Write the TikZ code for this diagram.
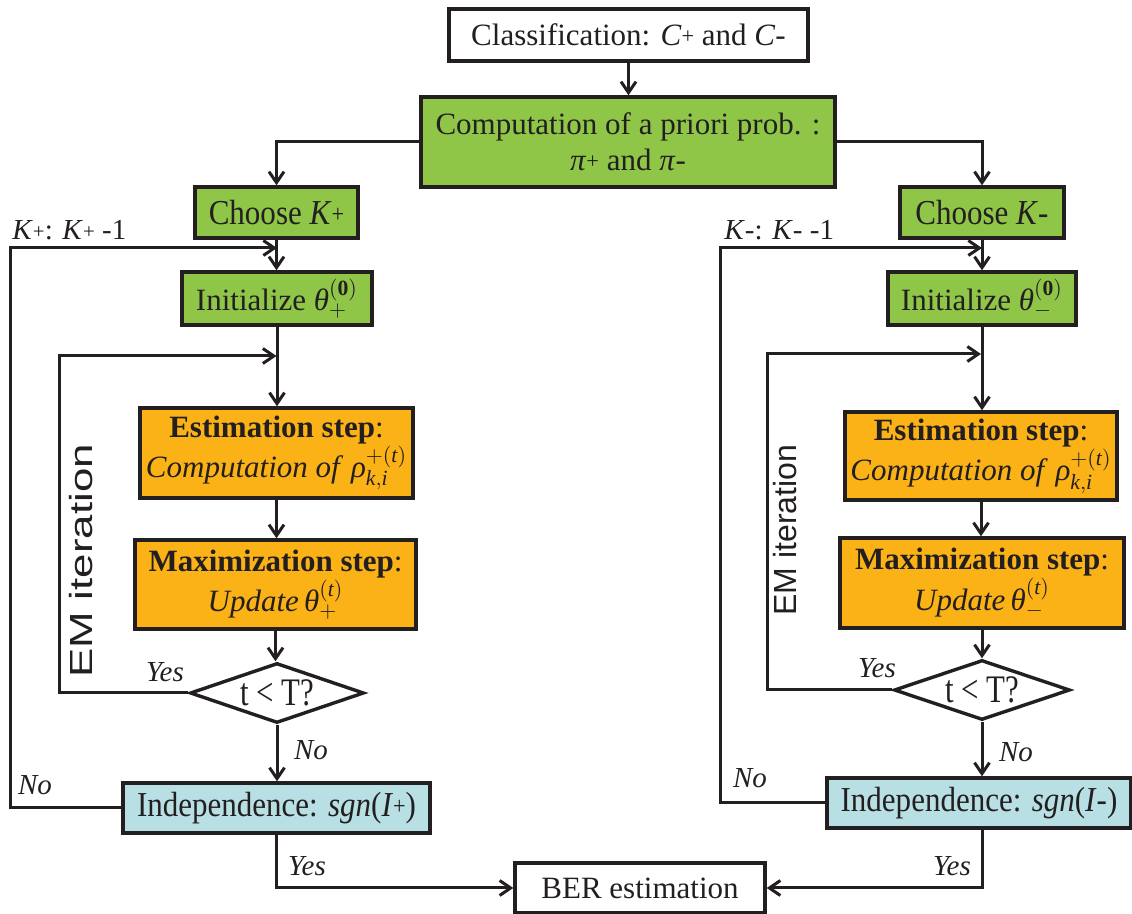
\documentclass[tikz,border=0pt]{standalone}
\usepackage{fontspec}
\usepackage{graphicx}
\setmainfont{Liberation Serif}
\newfontfamily\tallfont[FakeStretch=0.79]{Liberation Serif}
\newfontfamily\midfont[FakeStretch=0.886]{Liberation Serif}
\newfontfamily\emfontA[FakeStretch=1.37]{Liberation Sans}
\newfontfamily\emfontB{Liberation Sans}
\usetikzlibrary{arrows.meta,shapes.geometric}
\definecolor{boxgreen}{RGB}{143,198,72}
\definecolor{boxorange}{RGB}{251,178,22}
\definecolor{boxblue}{RGB}{184,224,228}
\definecolor{ink}{RGB}{35,31,32}
\newcommand\smp{\raisebox{0.06em}{\scalebox{0.72}{+}}}
\newcommand\gth{\hbox{\itshape θ}}
\newcommand\grho{\hbox{\itshape ρ}}
\newcommand\mainsz{\fontsize{15.5}{18}\selectfont}
\newcommand\midsz{\midfont\fontsize{17.5}{20}\selectfont}
\newcommand\tallsz{\tallfont\fontsize{19.5}{22}\selectfont}
\newcommand\labsz{\fontsize{14.5}{17}\selectfont}
\begin{document}
\begin{tikzpicture}[x=0.5pt,y=-0.5pt,
  box/.style={draw=ink, line width=1.7pt, inner sep=0pt, align=center, font=\mainsz, text=ink},
  greenbox/.style={box, fill=boxgreen},
  orangebox/.style={box, fill=boxorange},
  bluebox/.style={box, fill=boxblue, font=\midsz},
  dia/.style={diamond, draw=ink, line width=1.7pt, fill=white, inner sep=0pt, aspect=2.9, minimum width=87pt, minimum height=30pt, font=\tallsz, text=ink},
  arr/.style={draw=ink, line width=1.5pt, -{Straight Barb[length=5.5pt,width=7.5pt]}},
  conn/.style={draw=ink, line width=1.5pt},
  lab/.style={font=\labsz, text=ink, inner sep=0pt}]
\useasboundingbox (0,0) rectangle (1132,914);

% boxes
\node[box, fill=white, minimum width=179.5pt, minimum height=26pt] (cls) at (628.5,35) {Classification: \textit{C}\smp{} and \textit{C}-};
\node[greenbox, minimum width=207pt, minimum height=45pt] (comp) at (628,142) {Computation of a priori prob. :\\ \textit{π}\smp{} and \textit{π}-};

\node[greenbox, font=\midsz, minimum width=81.5pt, minimum height=25.5pt] (chp) at (276.5,212.5) {Choose \textit{K}\smp};
\node[greenbox, font=\midsz, minimum width=82pt, minimum height=25.5pt] (chm) at (982,212.5) {Choose \textit{K}-};

\node[greenbox, minimum width=95pt, minimum height=26.5pt] (inip) at (277,298.5) {Initialize $\gth^{\mathbf{(0)}}_{+}$};
\node[greenbox, minimum width=94pt, minimum height=26.5pt] (inim) at (982,298.5) {Initialize $\gth^{\mathbf{(0)}}_{-}$};

\node[orangebox, minimum width=136.5pt, minimum height=45pt] (estp) at (276.5,453) {\textbf{Estimation step}:\\ \textit{Computation of} $\grho^{+(\mathit{t})}_{\mathit{k,i}}$};
\node[orangebox, minimum width=136pt, minimum height=44pt] (estm) at (981,456) {\textbf{Estimation step}:\\ \textit{Computation of} $\grho^{+(\mathit{t})}_{\mathit{k,i}}$};

\node[orangebox, minimum width=140.5pt, minimum height=44.5pt] (maxp) at (275.5,584.5) {\textbf{Maximization step}:\\ \textit{Update}\,$\gth^{(\mathit{t})}_{+}$};
\node[orangebox, minimum width=142pt, minimum height=45pt] (maxm) at (982,583) {\textbf{Maximization step}:\\ \textit{Update}\,$\gth^{(\mathit{t})}_{-}$};

\node[dia] (dp) at (277,693) {t < T?};
\node[dia, minimum width=88pt] (dm) at (982,690) {t < T?};

\node[bluebox, minimum width=153.5pt, minimum height=25pt] (indp) at (276.5,808) {Independence: \textit{sgn}(\textit{I}\smp)};
\node[bluebox, minimum width=152pt, minimum height=25pt] (indm) at (979,803) {Independence: \textit{sgn}(\textit{I}-)};

\node[box, fill=white, minimum width=125pt, minimum height=25pt] (ber) at (640,888) {BER estimation};

% loop corners
\coordinate (kpc) at (10,248);
\coordinate (kmc) at (720,248);
\coordinate (empc) at (59,356);
\coordinate (emmc) at (767,354);

% connectors
\draw[arr] (cls.south) -- (cls.south |- comp.north);
\draw[arr] (comp.west) -| (chp.north);
\draw[arr] (comp.east) -| (chm.north);

\draw[arr] (chp.south) -- (chp.south |- inip.north);
\draw[arr] (inip.south) -- (inip.south |- estp.north);
\draw[arr] (estp.south) -- (estp.south |- maxp.north);
\draw[arr] (maxp.south) -- (maxp.south |- dp.north);
\draw[arr] (dp.south) -- (dp.south |- indp.north);
\draw[arr] (indp.south) |- (ber.west);
\draw[arr] (indp.west) -| (kpc) -- (kpc -| inip.north);
\draw[arr] (dp.west) -| (empc) -- (empc -| estp.north);

\draw[arr] (chm.south) -- (chm.south |- inim.north);
\draw[arr] (inim.south) -- (inim.south |- estm.north);
\draw[arr] (estm.south) -- (estm.south |- maxm.north);
\draw[arr] (maxm.south) -- (maxm.south |- dm.north);
\draw[arr] (dm.south) -- (dm.south |- indm.north);
\draw[arr] (dm.south |- indm.south) |- (ber.east);
\draw[arr] (indm.west) -| (kmc) -- (kmc -| inim.north);
\draw[arr] (dm.west) -| (emmc) -- (emmc -| estm.north);

% labels
\node[lab, anchor=base west] (kpl) at (12,240) {\textit{K}\smp: \textit{K}\smp{} -1};
\node[lab, anchor=base west] (kml) at (724,240) {\textit{K}-: \textit{K}- -1};
\node[lab] (yesdp) at (165,672) {\textit{Yes}};
\node[lab] (yesdm) at (877,668) {\textit{Yes}};
\node[lab] (nodp) at (311,750) {\textit{No}};
\node[lab] (nodm) at (1016,752) {\textit{No}};
\node[lab] (noip) at (35,785) {\textit{No}};
\node[lab] (noim) at (750,778) {\textit{No}};
\node[lab] (yesip) at (307,866) {\textit{Yes}};
\node[lab] (yesim) at (952,866) {\textit{Yes}};

\node[rotate=90, font=\emfontA\fontsize{16}{18}\selectfont, text=ink, inner sep=0pt] (emp) at (81.5,561) {EM iteration};
\node[rotate=90, font=\emfontB\fontsize{16}{18}\selectfont, text=ink, inner sep=0pt] (emm) at (785,530) {EM iteration};
\end{tikzpicture}
\end{document}
